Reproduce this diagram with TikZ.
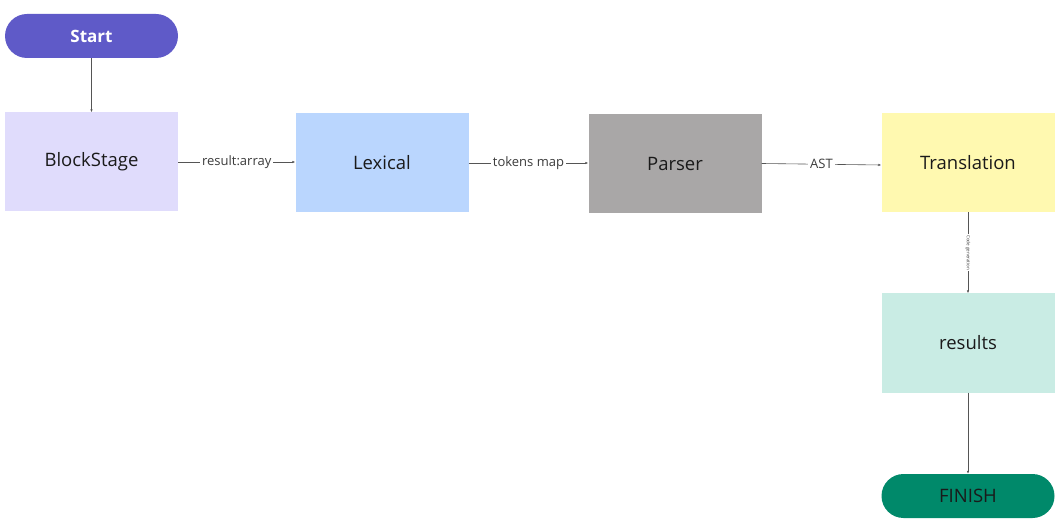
\documentclass[tikz,border=0pt]{standalone}
\usepackage{fontspec}
\setmainfont{Open Sans}
\usetikzlibrary{arrows.meta}
\definecolor{startc}{HTML}{5F5AC8}
\definecolor{blockc}{HTML}{E0DCFC}
\definecolor{lexc}{HTML}{BAD6FE}
\definecolor{parc}{HTML}{A9A7A7}
\definecolor{tranc}{HTML}{FFF9B0}
\definecolor{resc}{HTML}{C9ECE4}
\definecolor{finc}{HTML}{00896A}
\definecolor{linec}{HTML}{555555}
\definecolor{txtc}{HTML}{1A1A1A}
\tikzset{
  procbox/.style={minimum width=173pt, minimum height=99pt, inner sep=0pt, font=\fontsize{18.5}{22}\selectfont, text=txtc},
  termbox/.style={rounded corners=22pt, minimum width=173pt, minimum height=44pt, inner sep=0pt, font=\fontsize{18.5}{22}\selectfont},
  conn/.style={draw=linec, line width=0.6pt, -{Latex[length=3pt,width=2.5pt]}},
  lab/.style={fill=white, inner sep=2pt, font=\fontsize{13}{15}\selectfont, text=txtc!85}
}
\begin{document}
\begin{tikzpicture}[x=1pt,y=-1pt]
\useasboundingbox (0,0) rectangle (1063,521);
\node[termbox, fill=startc, text=white, font=\fontsize{17}{20}\selectfont\bfseries] (start) at (91.5,36) {Start};
\node[procbox, fill=blockc] (block) at (91.5,162) {BlockStage};
\node[procbox, fill=lexc] (lex) at (382,162.5) {Lexical};
\node[procbox, fill=parc] (par) at (675,163.5) {Parser};
\node[procbox, fill=tranc] (tran) at (968,162.5) {Translation};
\node[procbox, fill=resc] (res) at (968,343) {results};
\node[termbox, fill=finc, text=txtc] (fin) at (968,496) {FINISH};
\draw[conn] (start) -- (block);
\draw[conn] (block.east |- 0,162) -- node[lab] {result:array} (lex.west |- 0,162);
\draw[conn] (lex.east |- 0,163) -- node[lab] {tokens map} (par.west |- 0,163);
\draw[conn] (par.east) -- node[lab] {AST} (tran.west |- 0,165);
\draw[conn] (tran) -- node[lab, rotate=-90, font=\fontsize{4.5}{5}\selectfont, inner sep=1pt] {Code generation} (res);
\draw[conn] (res) -- (fin);
\end{tikzpicture}
\end{document}
